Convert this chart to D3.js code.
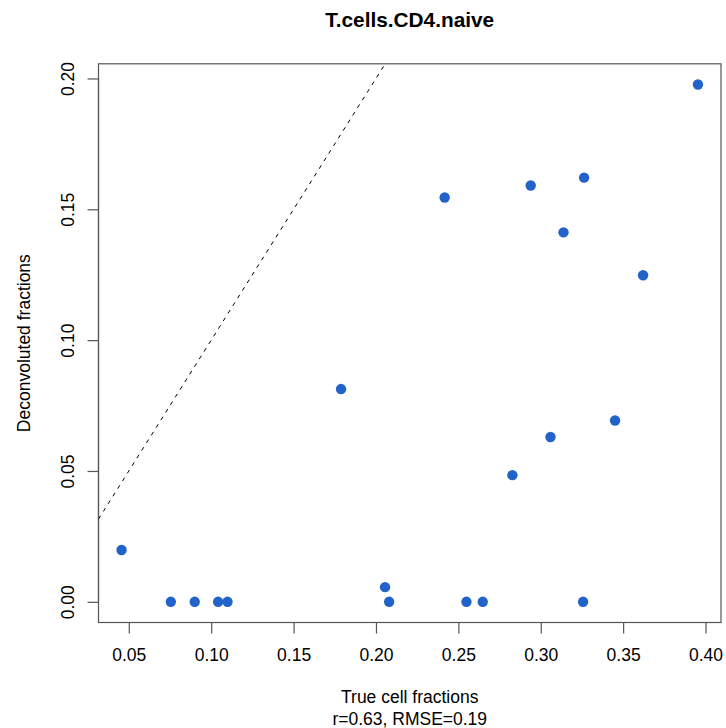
<!DOCTYPE html>
<html>
<head>
<meta charset="utf-8">
<script src="https://cdn.jsdelivr.net/npm/d3@7"></script>
<style>
  body { margin: 0; background: #fff; }
  svg text { font-family: "Liberation Sans", Arial, sans-serif; fill: #000; }
</style>
</head>
<body>
<div id="chart"></div>
<script>
// values
const trueFrac = [0.3954, 0.2417, 0.2939, 0.3263, 0.3138, 0.3621,
  0.1788, 0.3451, 0.3059, 0.2828,
  0.0456, 0.0755, 0.0900, 0.1042, 0.1099, 0.2055, 0.2080,
  0.2549, 0.2648, 0.3257];
const deconvFrac = [0.1977, 0.1545, 0.1591, 0.1621, 0.1412, 0.1248,
  0.0813, 0.0693, 0.0630, 0.0484,
  0.0198, 0, 0, 0, 0, 0.0056, 0,
  0, 0, 0];
const xTicks = [0.05, 0.10, 0.15, 0.20, 0.25, 0.30, 0.35, 0.40];
const yTicks = [0.00, 0.05, 0.10, 0.15, 0.20];
const title = 'T.cells.CD4.naive';
const xLabel = 'True cell fractions';
const subLabel = 'r=0.63, RMSE=0.19';
const yLabel = 'Deconvoluted fractions';

const width = 726;
const height = 728;
const plotL = 98.5, plotR = 721, plotT = 63.8, plotB = 622.5;

// R style: pad the data range by 4% each side
function padded(vals) {
  const [lo, hi] = d3.extent(vals);
  const d = (hi - lo) * 0.04;
  return [lo - d, hi + d];
}

const x = d3.scaleLinear().domain(padded(trueFrac)).range([plotL, plotR]);
const y = d3.scaleLinear().domain(padded(deconvFrac)).range([plotB, plotT]);

const svg = d3.select('#chart').append('svg')
  .attr('width', width)
  .attr('height', height);

svg.append('defs').append('clipPath').attr('id', 'plotclip')
  .append('rect')
  .attr('x', plotL).attr('y', plotT)
  .attr('width', plotR - plotL).attr('height', plotB - plotT);

// box
svg.append('rect')
  .attr('x', plotL).attr('y', plotT)
  .attr('width', plotR - plotL).attr('height', plotB - plotT)
  .attr('fill', 'none')
  .attr('stroke', '#555')
  .attr('stroke-width', 1.2);

// axes
const fmt = d3.format('.2f');
const xaxis = svg.append('g')
  .attr('transform', 'translate(0,' + plotB + ')')
  .call(d3.axisBottom(x).tickValues(xTicks).tickFormat(fmt).tickSize(11).tickPadding(15));
const yaxis = svg.append('g')
  .attr('transform', 'translate(' + plotL + ',0)')
  .call(d3.axisLeft(y).tickValues(yTicks).tickFormat(fmt).tickSize(11).tickPadding(0));

[xaxis, yaxis].forEach(g => {
  g.select('.domain').remove();
  g.selectAll('line').attr('stroke', '#555').attr('stroke-width', 1.2);
  g.selectAll('text').style('font-size', '17.5px').attr('fill', '#000');
});
// R draws the axis line from first to last tick only
xaxis.append('line')
  .attr('x1', x(xTicks[0])).attr('x2', x(xTicks[xTicks.length - 1]))
  .attr('stroke', '#555').attr('stroke-width', 1.2);
yaxis.append('line')
  .attr('y1', y(yTicks[0])).attr('y2', y(yTicks[yTicks.length - 1]))
  .attr('stroke', '#555').attr('stroke-width', 1.2);

// y tick labels rotated like R's default las=0
yaxis.selectAll('.tick text')
  .attr('x', null).attr('dy', null)
  .attr('text-anchor', 'middle')
  .attr('transform', 'translate(-25,0) rotate(-90)');

// identity line
const [d0, d1] = x.domain();
svg.append('line')
  .attr('clip-path', 'url(#plotclip)')
  .attr('x1', x(d0)).attr('y1', y(d0))
  .attr('x2', x(d1)).attr('y2', y(d1))
  .attr('stroke', '#000')
  .attr('stroke-width', 1)
  .attr('stroke-dasharray', '4,5');

// points
svg.append('g').selectAll('circle')
  .data(d3.zip(trueFrac, deconvFrac))
  .join('circle')
  .attr('cx', d => x(d[0]))
  .attr('cy', d => y(d[1]))
  .attr('r', 5.2)
  .attr('fill', '#2263c9');

// labels
const midX = (plotL + plotR) / 2;
svg.append('text')
  .attr('x', midX).attr('y', 27)
  .attr('text-anchor', 'middle')
  .style('font-size', '20.8px')
  .style('font-weight', 'bold')
  .text(title);

svg.append('text')
  .attr('x', midX).attr('y', 703)
  .attr('text-anchor', 'middle')
  .style('font-size', '17.5px')
  .text(xLabel);

svg.append('text')
  .attr('x', midX).attr('y', 725)
  .attr('text-anchor', 'middle')
  .style('font-size', '17.5px')
  .text(subLabel);

svg.append('text')
  .attr('transform', 'translate(30,' + ((plotT + plotB) / 2) + ') rotate(-90)')
  .attr('text-anchor', 'middle')
  .style('font-size', '17.5px')
  .text(yLabel);
</script>
</body>
</html>
